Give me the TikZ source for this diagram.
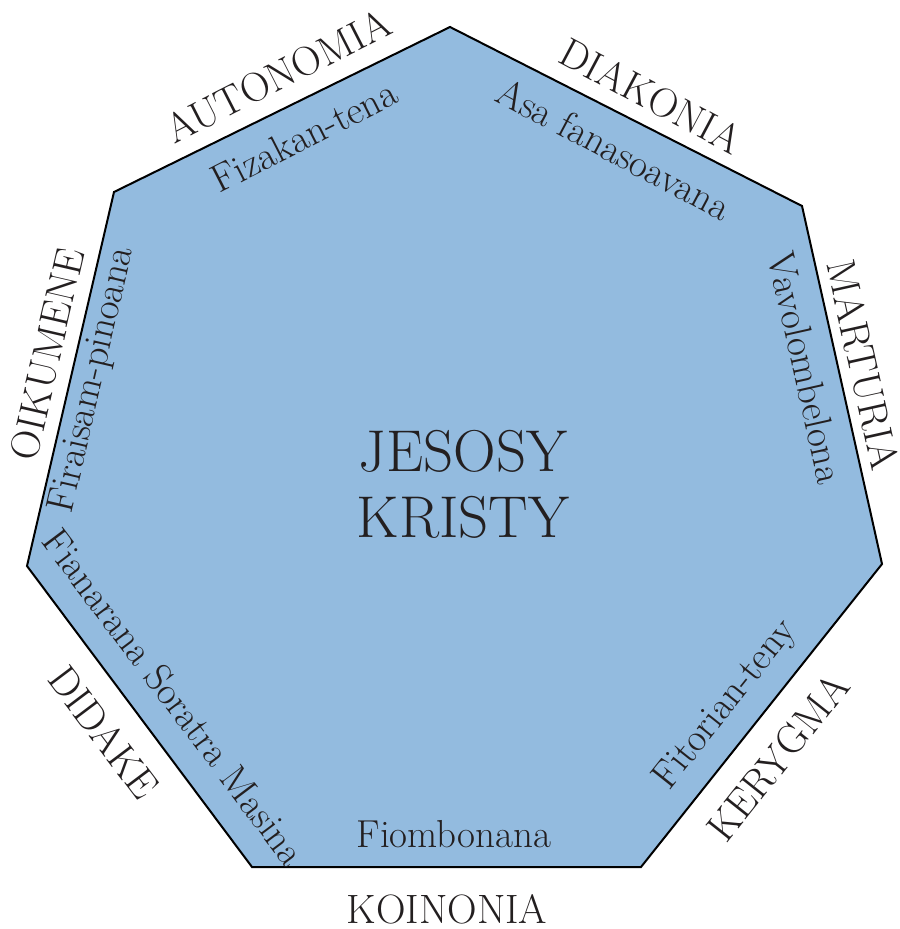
\documentclass[tikz,border=0pt]{standalone}
\usepackage{fontspec}
\usepackage{tikz}
\usetikzlibrary{positioning}

\definecolor{heptblue}{RGB}{147,187,223}
\definecolor{inkdark}{RGB}{35,31,32}

\begin{document}
\begin{tikzpicture}[x=0.5pt, y=-0.5pt,
    every node/.style={text=inkdark, inner sep=0pt},
    outerword/.style={font=\fontsize{20.5}{24}\selectfont\addfontfeature{LetterSpace=9}},
    innerword/.style={font=\fontsize{19.5}{24}\selectfont},
    centreword/.style={font=\fontsize{29.5}{33}\selectfont\addfontfeature{LetterSpace=6}, align=center}]

      \useasboundingbox (0,0) rectangle (899,929);

      % corners of the heptagon
      \coordinate (top) at (450,27);
      \coordinate (upright) at (802,206);
      \coordinate (right) at (882,564);
      \coordinate (lowright) at (641,867);
      \coordinate (lowleft) at (252,867);
      \coordinate (left) at (27,566);
      \coordinate (upleft) at (114,192);

      \draw[line width=1pt, fill=heptblue, line join=miter]
        (top) -- (upright) -- (right) -- (lowright) -- (lowleft) -- (left) -- (upleft) -- cycle;

      \node[centreword] (christ) at (463,484) {JESOSY\\KRISTY};

      % outer words
      \node[outerword, rotate=27] (autonomia) at (278,76) {AUTONOMIA};
      \node[outerword, rotate=-28] (diakonia) at (651,96) {DIAKONIA};
      \node[outerword, rotate=-77.5] (marturia) at (863,365) {MARTURIA};
      \node[outerword, rotate=51.5] (kerygma) at (778,757) {KERYGMA};
      \node[outerword] (koinonia) at (447,909) {KOINONIA};
      \node[outerword, rotate=-53] (didake) at (104,732) {DIDAKE};
      \node[outerword, rotate=77] (oikumene) at (47,354) {OIKUMENE};

      % inner words
      \node[innerword, rotate=27] (fizakan) at (304,136) {Fizakan-tena};
      \node[innerword, rotate=-28] (asa) at (614,149) {Asa fanasoavana};
      \node[innerword, rotate=-77.5] (vavolombelona) at (806,368) {Vavolombelona};
      \node[innerword, rotate=51.5] (fitorian) at (726,705) {Fitorian-teny};
      \node[innerword] (fiombonana) at (454,834) {Fiombonana};
      \node[innerword, rotate=-53] (fianarana) at (174,697) {Fianarana Soratra Masina};
      \node[innerword, rotate=77] (firaisam) at (93,380) {Firaisam-pinoana};
    \end{tikzpicture}
\end{document}
